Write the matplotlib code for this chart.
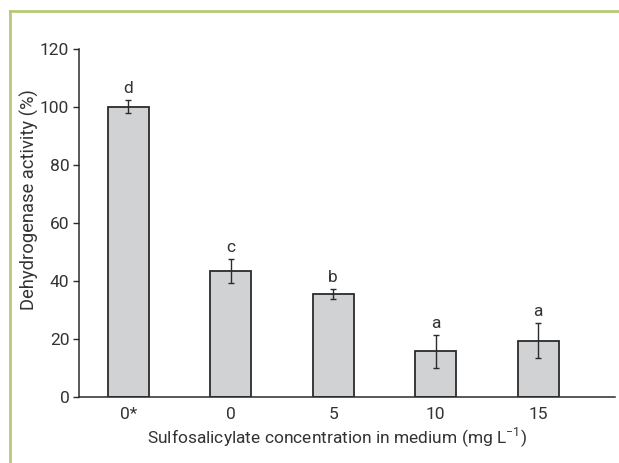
import numpy as np
import matplotlib
matplotlib.use('Agg')
import matplotlib.pyplot as plt
from matplotlib.lines import Line2D

plt.rcParams['font.family'] = ['Roboto', 'DejaVu Sans']
plt.rcParams['mathtext.fontset'] = 'custom'
plt.rcParams['mathtext.rm'] = 'Roboto'

CATEGORIES = ['0*', '0', '5', '10', '15']
ACTIVITY = [100.0, 43.4, 35.5, 15.7, 19.4]
ERRORS = [2.2, 4.0, 1.7, 5.6, 6.0]
LETTERS = ['d', 'c', 'b', 'a', 'a']

TEXT = '#333333'
LINE = '#2b2b2b'

fig = plt.figure(figsize=(6.19, 4.63), dpi=100)
ax = fig.add_axes([0.1276, 0.1425, 0.866, 0.752])

x = np.arange(len(CATEGORIES))
ax.bar(x, ACTIVITY, width=0.40, color='#d1d2d4', edgecolor=LINE, linewidth=1.3, zorder=2)
ax.errorbar(x, ACTIVITY, yerr=ERRORS, fmt='none', ecolor=LINE, elinewidth=1.0,
            capsize=2, capthick=1.0, zorder=3)

# significance letters above the error bars
for xi, v, e, lab in zip(x, ACTIVITY, ERRORS, LETTERS):
    ax.text(xi, v + e + 1.5, lab, ha='center', va='bottom', fontsize=12.5, color=TEXT)

ax.set_xlim(-0.48, 4.75)
ax.set_ylim(0, 120)
ax.set_yticks(range(0, 121, 20))
ax.set_xticks(x)
ax.set_xticklabels(CATEGORIES)

for s in ['top', 'right']:
    ax.spines[s].set_visible(False)
for s in ['left', 'bottom']:
    ax.spines[s].set_color(LINE)
    ax.spines[s].set_linewidth(1.1)

ax.tick_params(axis='y', direction='out', length=4, width=1.0, color=LINE,
               labelsize=12.5, labelcolor=TEXT, pad=3)
ax.tick_params(axis='x', length=0, labelsize=12.5, labelcolor=TEXT, pad=7)

ax.set_ylabel('Dehydrogenase activity (%)', fontsize=13.2, color=TEXT)
ax.yaxis.set_label_coords(-0.075, 0.566)
ax.set_xlabel(r'Sulfosalicylate concentration in medium (mg L$^{\mathregular{-1}}$)',
              fontsize=12.5, color=TEXT)
ax.xaxis.set_label_coords(0.481, -0.082)

# green frame lines at the top and left of the panel
green = '#b5c978'
fig.add_artist(Line2D([10 / 619, 1.0], [1 - 11 / 463, 1 - 11 / 463],
                      transform=fig.transFigure, color=green, linewidth=2))
fig.add_artist(Line2D([10 / 619, 10 / 619], [0.0, 1 - 11 / 463],
                      transform=fig.transFigure, color=green, linewidth=2))

fig.savefig('out.png', dpi=100)
